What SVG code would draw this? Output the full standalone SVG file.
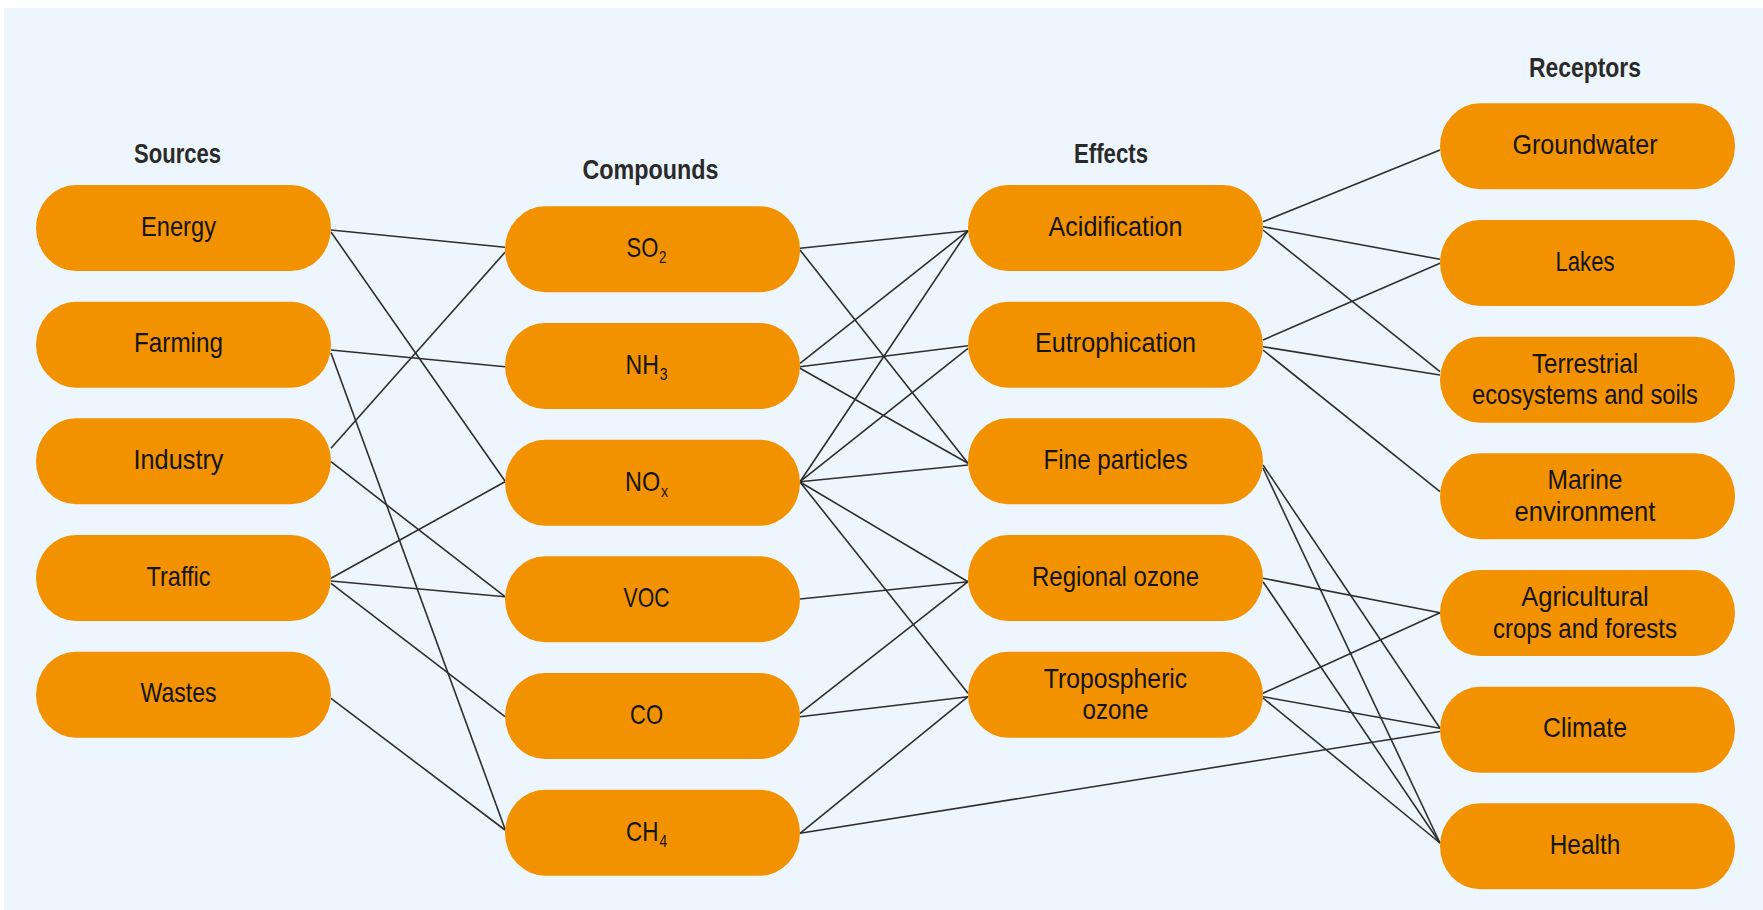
<svg xmlns="http://www.w3.org/2000/svg" width="1763" height="910" viewBox="0 0 1763 910">
<style>
.bg{fill:#EEF6FD}
.node rect{fill:#F29200}
.lbl{font-family:"Liberation Sans",Arial,sans-serif;font-size:28px;fill:#141414;text-anchor:middle}
.hdr{font-family:"Liberation Sans",Arial,sans-serif;font-size:28px;font-weight:bold;fill:#2a2a2a;text-anchor:middle}
.sub{font-size:17px}
#connectors line{stroke:#2e2e2e;stroke-width:1.6;fill:none}
</style>
<rect x="0" y="0" width="1763" height="910" fill="#ffffff"/>
<rect class="bg" x="4" y="8" width="1759" height="902"/>

<g id="headers">
<text class="hdr" x="177.5" y="163" textLength="87" lengthAdjust="spacingAndGlyphs">Sources</text>
<text class="hdr" x="650.5" y="179.3" textLength="136" lengthAdjust="spacingAndGlyphs">Compounds</text>
<text class="hdr" x="1111" y="163" textLength="74" lengthAdjust="spacingAndGlyphs">Effects</text>
<text class="hdr" x="1585" y="76.7" textLength="112" lengthAdjust="spacingAndGlyphs">Receptors</text>
</g>

<g id="connectors">
<line x1="331" y1="230" x2="505" y2="247.3"/>
<line x1="331" y1="232" x2="505" y2="481"/>
<line x1="331" y1="350" x2="505" y2="366.7"/>
<line x1="331" y1="353" x2="505" y2="829"/>
<line x1="331" y1="448.3" x2="505" y2="252.3"/>
<line x1="331" y1="461.7" x2="505" y2="596.7"/>
<line x1="331" y1="578.3" x2="505" y2="481.7"/>
<line x1="331" y1="581" x2="505" y2="596.7"/>
<line x1="331" y1="583.3" x2="505" y2="716.7"/>
<line x1="331" y1="698.3" x2="505" y2="830"/>

<line x1="800" y1="248.3" x2="968" y2="230.7"/>
<line x1="800" y1="250" x2="968" y2="463.3"/>
<line x1="800" y1="363.3" x2="968" y2="230.7"/>
<line x1="800" y1="366.7" x2="968" y2="345.7"/>
<line x1="800" y1="368.3" x2="968" y2="463.3"/>
<line x1="800" y1="481.7" x2="968" y2="230.7"/>
<line x1="800" y1="481.7" x2="968" y2="348.3"/>
<line x1="800" y1="481.7" x2="968" y2="465"/>
<line x1="800" y1="482" x2="968" y2="581.7"/>
<line x1="800" y1="482" x2="968" y2="693.3"/>
<line x1="800" y1="599" x2="968" y2="581.7"/>
<line x1="800" y1="713.3" x2="968" y2="581.7"/>
<line x1="800" y1="716.7" x2="968" y2="696.7"/>
<line x1="800" y1="833.3" x2="968" y2="696.7"/>
<line x1="800" y1="833.3" x2="1440" y2="731.5"/>

<line x1="1263" y1="221.7" x2="1440" y2="150"/>
<line x1="1263" y1="226.7" x2="1440" y2="259.3"/>
<line x1="1263" y1="230" x2="1440" y2="371.7"/>
<line x1="1263" y1="340" x2="1440" y2="263.3"/>
<line x1="1263" y1="346.7" x2="1440" y2="375"/>
<line x1="1263" y1="350" x2="1440" y2="491.7"/>
<line x1="1263" y1="465" x2="1440" y2="728.3"/>
<line x1="1263" y1="468" x2="1440" y2="843"/>
<line x1="1263" y1="578.3" x2="1440" y2="612.7"/>
<line x1="1263" y1="581.7" x2="1440" y2="843"/>
<line x1="1263" y1="693.3" x2="1440" y2="612.7"/>
<line x1="1263" y1="696.7" x2="1440" y2="728.3"/>
<line x1="1263" y1="698" x2="1440" y2="843"/>
</g>

<g id="energy" class="node"><rect x="36" y="185" width="295" height="86" rx="40" ry="43"/><text class="lbl" x="178.5" y="235.5" textLength="75" lengthAdjust="spacingAndGlyphs">Energy</text></g>
<g id="farming" class="node"><rect x="36" y="301.7" width="295" height="86" rx="40" ry="43"/><text class="lbl" x="178.5" y="352.2" textLength="89" lengthAdjust="spacingAndGlyphs">Farming</text></g>
<g id="industry" class="node"><rect x="36" y="418.3" width="295" height="86" rx="40" ry="43"/><text class="lbl" x="178.5" y="468.8" textLength="90" lengthAdjust="spacingAndGlyphs">Industry</text></g>
<g id="traffic" class="node"><rect x="36" y="535" width="295" height="86" rx="40" ry="43"/><text class="lbl" x="178.5" y="585.5" textLength="64" lengthAdjust="spacingAndGlyphs">Traffic</text></g>
<g id="wastes" class="node"><rect x="36" y="651.7" width="295" height="86" rx="40" ry="43"/><text class="lbl" x="178.5" y="702.2" textLength="76" lengthAdjust="spacingAndGlyphs">Wastes</text></g>

<g id="so2" class="node"><rect x="505" y="206.3" width="295" height="86" rx="40" ry="43"/><text class="lbl" x="646.5" y="257.3" textLength="40" lengthAdjust="spacingAndGlyphs">SO<tspan class="sub" dx="1" dy="6">2</tspan></text></g>
<g id="nh3" class="node"><rect x="505" y="323" width="295" height="86" rx="40" ry="43"/><text class="lbl" x="646.5" y="374" textLength="42" lengthAdjust="spacingAndGlyphs">NH<tspan class="sub" dx="1" dy="6">3</tspan></text></g>
<g id="nox" class="node"><rect x="505" y="439.7" width="295" height="86" rx="40" ry="43"/><text class="lbl" x="646.5" y="490.7" textLength="43" lengthAdjust="spacingAndGlyphs">NO<tspan class="sub" dx="1" dy="6">x</tspan></text></g>
<g id="voc" class="node"><rect x="505" y="556.3" width="295" height="86" rx="40" ry="43"/><text class="lbl" x="646.5" y="607.3" textLength="46" lengthAdjust="spacingAndGlyphs">VOC</text></g>
<g id="co" class="node"><rect x="505" y="673" width="295" height="86" rx="40" ry="43"/><text class="lbl" x="646.5" y="724" textLength="33" lengthAdjust="spacingAndGlyphs">CO</text></g>
<g id="ch4" class="node"><rect x="505" y="789.7" width="295" height="86" rx="40" ry="43"/><text class="lbl" x="646.5" y="840.7" textLength="41" lengthAdjust="spacingAndGlyphs">CH<tspan class="sub" dx="1" dy="6">4</tspan></text></g>

<g id="acidification" class="node"><rect x="968" y="185" width="295" height="86" rx="40" ry="43"/><text class="lbl" x="1115.5" y="235.5" textLength="134" lengthAdjust="spacingAndGlyphs">Acidification</text></g>
<g id="eutrophication" class="node"><rect x="968" y="301.7" width="295" height="86" rx="40" ry="43"/><text class="lbl" x="1115.5" y="352.2" textLength="161" lengthAdjust="spacingAndGlyphs">Eutrophication</text></g>
<g id="fine-particles" class="node"><rect x="968" y="418.3" width="295" height="86" rx="40" ry="43"/><text class="lbl" x="1115.5" y="468.8" textLength="144" lengthAdjust="spacingAndGlyphs">Fine particles</text></g>
<g id="regional-ozone" class="node"><rect x="968" y="535" width="295" height="86" rx="40" ry="43"/><text class="lbl" x="1115.5" y="585.5" textLength="167" lengthAdjust="spacingAndGlyphs">Regional ozone</text></g>
<g id="tropospheric-ozone" class="node"><rect x="968" y="651.7" width="295" height="86" rx="40" ry="43"/><text class="lbl" x="1115.5" y="687.7"><tspan x="1115.5" textLength="143.5" lengthAdjust="spacingAndGlyphs">Tropospheric</tspan><tspan x="1115.5" y="719.2" textLength="66" lengthAdjust="spacingAndGlyphs">ozone</tspan></text></g>

<g id="groundwater" class="node"><rect x="1440" y="103.3" width="295" height="86" rx="40" ry="43"/><text class="lbl" x="1585" y="153.8" textLength="145" lengthAdjust="spacingAndGlyphs">Groundwater</text></g>
<g id="lakes" class="node"><rect x="1440" y="220" width="295" height="86" rx="40" ry="43"/><text class="lbl" x="1585" y="270.5" textLength="59" lengthAdjust="spacingAndGlyphs">Lakes</text></g>
<g id="terrestrial" class="node"><rect x="1440" y="336.7" width="295" height="86" rx="40" ry="43"/><text class="lbl" x="1585" y="372.7"><tspan x="1585" textLength="106" lengthAdjust="spacingAndGlyphs">Terrestrial</tspan><tspan x="1585" y="404.2" textLength="226" lengthAdjust="spacingAndGlyphs">ecosystems and soils</tspan></text></g>
<g id="marine" class="node"><rect x="1440" y="453.3" width="295" height="86" rx="40" ry="43"/><text class="lbl" x="1585" y="489.3"><tspan x="1585" textLength="75" lengthAdjust="spacingAndGlyphs">Marine</tspan><tspan x="1585" y="520.8" textLength="141" lengthAdjust="spacingAndGlyphs">environment</tspan></text></g>
<g id="agricultural" class="node"><rect x="1440" y="570" width="295" height="86" rx="40" ry="43"/><text class="lbl" x="1585" y="606"><tspan x="1585" textLength="127.5" lengthAdjust="spacingAndGlyphs">Agricultural</tspan><tspan x="1585" y="637.5" textLength="184" lengthAdjust="spacingAndGlyphs">crops and forests</tspan></text></g>
<g id="climate" class="node"><rect x="1440" y="686.7" width="295" height="86" rx="40" ry="43"/><text class="lbl" x="1585" y="737.2" textLength="84" lengthAdjust="spacingAndGlyphs">Climate</text></g>
<g id="health" class="node"><rect x="1440" y="803.3" width="295" height="86" rx="40" ry="43"/><text class="lbl" x="1585" y="853.8" textLength="70.5" lengthAdjust="spacingAndGlyphs">Health</text></g>
</svg>
